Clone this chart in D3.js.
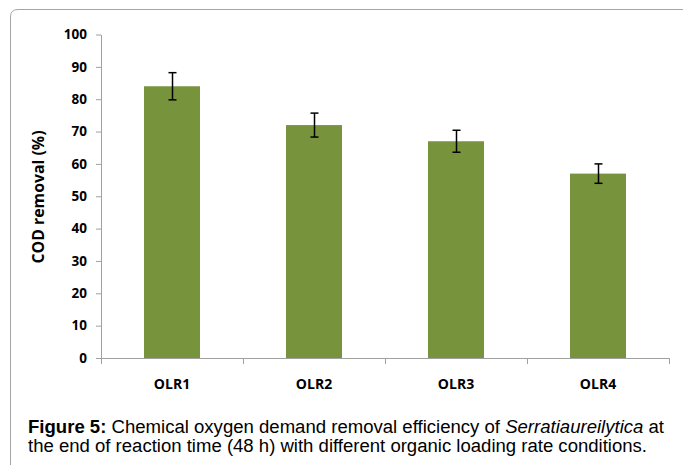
<!DOCTYPE html>
<html><head><meta charset="utf-8">
<script src="https://cdn.jsdelivr.net/npm/d3@7/dist/d3.min.js"></script>
<style>body{margin:0;background:#fff}svg{display:block}</style>
</head><body>
<svg id="c" width="683" height="465"></svg>
<script>
const categories = ["OLR1","OLR2","OLR3","OLR4"];
const values = [84, 72, 67, 57];
const errors = [4.2, 3.7, 3.4, 3.0];
const yTicks = [0,10,20,30,40,50,60,70,80,90,100];

const svg = d3.select("#c");
// frame
svg.append("path")
  .attr("d","M10.5,465 L10.5,17 Q10.5,9.5 18,9.5 L683,9.5")
  .attr("fill","none").attr("stroke","#a6a6a6").attr("stroke-width",1);

const xb = d3.scaleBand().domain(categories).range([101,669]);
const y = d3.scaleLinear().domain([0,100]).range([358,34.5]);

const axColor = "#a0a0a0";
const tickFont = "'Open Sans', 'Liberation Sans', sans-serif";

// y axis
const ya = svg.append("g").attr("transform","translate(101,0)")
  .call(d3.axisLeft(y).tickValues(yTicks).tickSize(5).tickPadding(9).tickSizeOuter(0));
ya.select(".domain").attr("stroke",axColor);
ya.selectAll(".tick line").attr("stroke",axColor);
ya.selectAll(".tick text").attr("font-family",tickFont).attr("font-weight","bold")
  .attr("font-size","13.5px").attr("fill","#000");

// x axis
const xa = svg.append("g").attr("transform","translate(0,358)");
xa.append("line").attr("x1",101).attr("x2",669).attr("y1",0.5).attr("y2",0.5).attr("stroke",axColor);
const bounds = categories.map(c => xb(c)).concat([xb(categories[categories.length-1]) + xb.bandwidth()]);
xa.selectAll("line.t").data(bounds).enter().append("line").attr("class","t")
  .attr("x1",d=>Math.round(d)+0.5).attr("x2",d=>Math.round(d)+0.5).attr("y1",0).attr("y2",6).attr("stroke",axColor);
xa.selectAll("text").data(categories).enter().append("text")
  .attr("x",d=>xb(d)+xb.bandwidth()/2).attr("y",31).attr("text-anchor","middle")
  .attr("font-family",tickFont).attr("font-weight","bold").attr("font-size","14px").text(d=>d);

// bars
const bw = 56;
svg.selectAll("rect.bar").data(categories).enter().append("rect").attr("class","bar")
  .attr("x",d=>xb(d)+xb.bandwidth()/2-bw/2).attr("width",bw)
  .attr("y",(d,i)=>y(values[i])).attr("height",(d,i)=>y(0)-y(values[i]))
  .attr("fill","#77933c");

// error bars
const eb = svg.append("g").attr("stroke","#000").attr("stroke-width",1.5);
categories.forEach((c,i)=>{
  const cx = Math.round(xb(c)+xb.bandwidth()/2)+0.5;
  const t = y(values[i]+errors[i]), b = y(values[i]-errors[i]);
  eb.append("line").attr("x1",cx).attr("x2",cx).attr("y1",t).attr("y2",b);
  eb.append("line").attr("x1",cx-4).attr("x2",cx+4).attr("y1",t).attr("y2",t);
  eb.append("line").attr("x1",cx-4).attr("x2",cx+4).attr("y1",b).attr("y2",b);
});

// y title
svg.append("text").attr("transform","translate(44,197) rotate(-90)").attr("text-anchor","middle")
  .attr("font-family",tickFont).attr("font-weight","bold").attr("font-size","16px")
  .attr("textLength",133).attr("lengthAdjust","spacingAndGlyphs").text("COD removal (%)");

// caption
const cap = svg.append("g").attr("font-family","'Liberation Sans', Arial, sans-serif").attr("font-size","18px").attr("fill","#000");
const l1 = cap.append("text").attr("x",28).attr("y",433).attr("textLength",636).attr("lengthAdjust","spacingAndGlyphs");
l1.append("tspan").attr("font-weight","bold").text("Figure 5:");
l1.append("tspan").text(" Chemical oxygen demand removal efficiency of ");
l1.append("tspan").attr("font-style","italic").text("Serratiaureilytica");
l1.append("tspan").text(" at");
cap.append("text").attr("x",28).attr("y",452).attr("textLength",619).attr("lengthAdjust","spacingAndGlyphs")
  .text("the end of reaction time (48 h) with different organic loading rate conditions.");
</script>
</body></html>
